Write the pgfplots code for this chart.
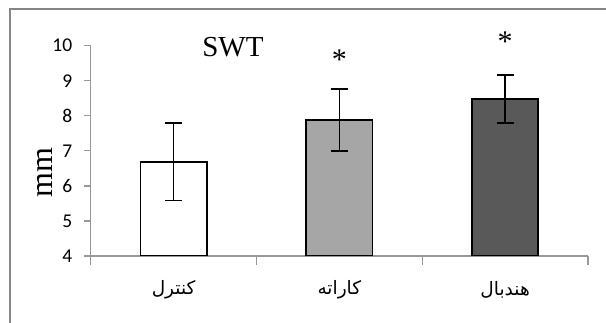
\documentclass[border=0pt]{standalone}
\usepackage{pgfplots}
\pgfplotsset{compat=1.18}
\usepackage{fontspec}
\setmainfont{Liberation Serif}
\newfontfamily\tickfont{Carlito}
\newfontfamily\arabicfont[Script=Arabic]{DejaVu Sans}
\TeXXeTstate=1
\definecolor{axisgray}{HTML}{989898}
\definecolor{framegray}{HTML}{868686}
\definecolor{barlight}{HTML}{A6A6A6}
\definecolor{bardark}{HTML}{595959}
\begin{document}
\begin{tikzpicture}[x=1pt,y=1pt]
\begin{axis}[
  at={(90.7pt,67pt)}, anchor=south west,
  scale only axis, width=497.3pt, height=210.3pt,
  xmin=-0.5, xmax=2.5, ymin=4, ymax=10,
  axis lines*=left,
  axis line style={draw=axisgray, line width=1.3pt},
  ytick={4,5,6,7,8,9,10},
  xtick={0,1,2},
  xticklabels={{\beginR کنترل\endR},{\beginR کاراته\endR},{\beginR هندبال\endR}},
  minor xtick={-0.5,0.5,1.5,2.5},
  tick align=outside,
  major tick length=7pt, minor tick length=9pt,
  tick style={draw=axisgray, line width=1.3pt},
  major x tick style={draw=none},
  minor x tick style={draw=axisgray, line width=1.3pt},
  y tick label style={font=\fontsize{19.5}{22}\tickfont, xshift=-8pt},
  x tick label style={font=\fontsize{18.5}{22}\arabicfont, anchor=center, yshift=-27pt},
  /pgf/number format/assume math mode=true,
  every axis y label/.style={at={(axis description cs:-0.092,0.395)}, rotate=90, anchor=center, font=\fontsize{32}{36}\selectfont},
  ylabel={mm},
  clip mode=individual,
]
\addplot[ybar, bar width=0.4, bar shift=0pt, fill=white, draw=black, line width=1.6pt,
  error bars/.cd, y dir=both, y explicit,
  error bar style={line width=1.5pt, black},
  error mark options={rotate=90, mark size=8.5pt, line width=1.5pt, black}]
  coordinates {(0,6.69) +- (0,1.10)};
\addplot[ybar, bar width=0.4, bar shift=0pt, fill=barlight, draw=black, line width=1.6pt,
  error bars/.cd, y dir=both, y explicit,
  error bar style={line width=1.5pt, black},
  error mark options={rotate=90, mark size=8.5pt, line width=1.5pt, black}]
  coordinates {(1,7.88) +- (0,0.88)};
\addplot[ybar, bar width=0.4, bar shift=0pt, fill=bardark, draw=black, line width=1.6pt,
  error bars/.cd, y dir=both, y explicit,
  error bar style={line width=1.5pt, black},
  error mark options={rotate=90, mark size=8.5pt, line width=1.5pt, black}]
  coordinates {(2,8.48) +- (0,0.69)};
\node[font=\fontsize{29}{32}\selectfont, anchor=base] at (axis cs:0.358,9.706) {SWT};
\node[font=\fontsize{30}{34}\selectfont, anchor=base] at (axis cs:1,9.31) {*};
\node[font=\fontsize{30}{34}\selectfont, anchor=base] at (axis cs:2,9.84) {*};
\end{axis}
\draw[framegray, line width=1.3pt] (10,-10) rectangle (620,314);
\pgfresetboundingbox
\useasboundingbox (0,0) rectangle (606,323);
\end{tikzpicture}
\end{document}
